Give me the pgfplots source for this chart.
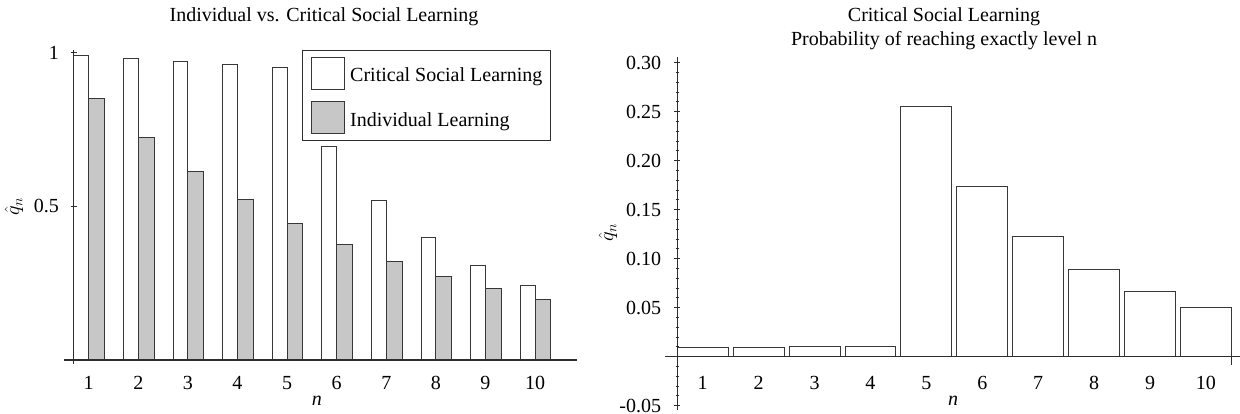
\documentclass[border=0pt]{standalone}
\usepackage{fontspec}
\setmainfont{Liberation Serif}
\usepackage{pgfplots}
\usepackage{pgfplotstable}
\pgfplotsset{compat=1.18}

\definecolor{barGray}{RGB}{199,199,199}
\definecolor{edge}{RGB}{55,55,55}
\definecolor{axisc}{RGB}{45,45,45}

% q_n for critical social learning and for individual learning
\pgfplotstableread{
n csl   ind
1 0.990 0.850
2 0.980 0.723
3 0.970 0.614
4 0.960 0.522
5 0.950 0.444
6 0.694 0.377
7 0.520 0.321
8 0.397 0.272
9 0.308 0.232
10 0.242 0.197
}\levels

% probability of reaching exactly level n (critical social learning)
\pgfplotstableread{
n p
1 0.0094
2 0.0096
3 0.0100
4 0.0104
5 0.2558
6 0.1735
7 0.1224
8 0.0891
9 0.0663
10 0.0503
}\exact

\newcommand\chartfont{\fontsize{20bp}{24bp}\selectfont}

\pgfplotsset{
  common/.style={
    scale only axis,
    clip=false,
    axis on top,
    tick style={draw=axisc, line width=1bp},
    major tick length=6bp, minor tick length=3.5bp,
    tick align=inside,
    ticklabel style={font=\chartfont, inner sep=0pt},
    /pgf/number format/assume math mode=true,
    xtick={1,2,3,4,5,6,7,8,9,10},
    xticklabels={1,2,3,4,5,6,7,8,9,10},
    xtick style={draw=none},
    xticklabel style={anchor=base},
  },
  plainlines/.style={
    axis line style={-, draw=axisc, line width=1.1bp},
    every inner x axis line/.append style={-},
    every outer x axis line/.append style={-},
    every inner y axis line/.append style={-},
    every outer y axis line/.append style={-},
  },
  boxlegend/.style={
    legend image code/.code={
      \draw[##1] (0bp,-13.7bp) rectangle (33.6bp,18.7bp);
      \path (38.6bp,0bp);
    }
  },
}

\begin{document}
\begin{tikzpicture}
\useasboundingbox (0bp,0bp) rectangle (1240bp,414bp);

% ---------- left: q_n of both learning strategies ----------
\begin{axis}[common,
  at={(73.7bp,54bp)}, anchor=south west,
  width=503bp, height=310bp,
  xmin=0.698, xmax=10.84, ymin=0, ymax=1.008,
  axis x line=bottom, axis y line=left,
  plainlines,
  x axis line style={-, shorten <=-9.7bp},
  y axis line style={-, shorten <=-4bp},
  ytick={0.5,1}, yticklabels={0.5,1},
  yticklabel style={anchor=east, xshift=-11.7bp},
  xticklabel style={yshift=-26.7bp},
  legend cell align=left,
  legend style={at={(0.4533,1)}, anchor=north west,
    draw=axisc, line width=1.2bp, fill=white,
    inner xsep=8.4bp, inner ysep=6bp, row sep=11bp,
    font=\chartfont, nodes={inner sep=0pt}},
]
\addplot[ybar, bar width=0.30, bar shift=-0.15, fill=white,
  draw=edge, line width=0.9bp, boxlegend]
  table[x=n, y=csl]{\levels};
\addlegendentry{Critical Social Learning}
\addplot[ybar, bar width=0.32, bar shift=0.16, fill=barGray,
  draw=edge, line width=0.9bp, boxlegend]
  table[x=n, y=ind]{\levels};
\addlegendentry{Individual Learning}
\end{axis}

% ---------- right: probability of reaching exactly level n ----------
\begin{axis}[common,
  at={(677.3bp,4.4bp)}, anchor=south west,
  width=562.7bp, height=352.8bp,
  xmin=0.545, xmax=10.61, ymin=-0.054, ymax=0.306,
  axis x line=middle, axis y line=left,
  plainlines,
  x axis line style={-, shorten <=-12bp},
  y axis line style={-},
  ytick={-0.05,0.05,0.10,0.15,0.20,0.25,0.30},
  yticklabels={-0.05,0.05,0.10,0.15,0.20,0.25,0.30},
  minor ytick={-0.04,-0.03,-0.02,-0.01,0.01,0.02,0.03,0.04,
    0.06,0.07,0.08,0.09,0.11,0.12,0.13,0.14,0.16,0.17,0.18,0.19,
    0.21,0.22,0.23,0.24,0.26,0.27,0.28,0.29},
  yticklabel style={anchor=east, xshift=-13bp},
  xticklabel style={yshift=-30bp},
]
\addplot[ybar, bar width=0.91, fill=white, draw=edge, line width=0.9bp]
  table[x=n, y=p]{\exact};
% closing tick at the right end of the bar range
\draw[axisc, line width=1bp] (axis cs:10.455,0) -- ++(0bp,-8.3bp);
\end{axis}

% ---------- titles and axis labels ----------
\node[font=\chartfont, anchor=base] at (324bp,392.3bp)
  {Individual vs. Critical Social Learning};
\node[font=\chartfont, anchor=base] at (944bp,392.3bp)
  {Critical Social Learning};
\node[font=\chartfont, anchor=base] at (944bp,368.3bp)
  {Probability of reaching exactly level n};
\node[font=\chartfont, anchor=base] at (316.8bp,9bp) {\textit{n}};
\node[font=\chartfont, anchor=base] at (953bp,9bp) {\textit{n}};
\node[font=\chartfont, rotate=90] at (14bp,207bp) {$\hat{q}_n$};
\node[font=\chartfont, rotate=90] at (608bp,181bp) {$\hat{q}_n$};
\end{tikzpicture}
\end{document}
